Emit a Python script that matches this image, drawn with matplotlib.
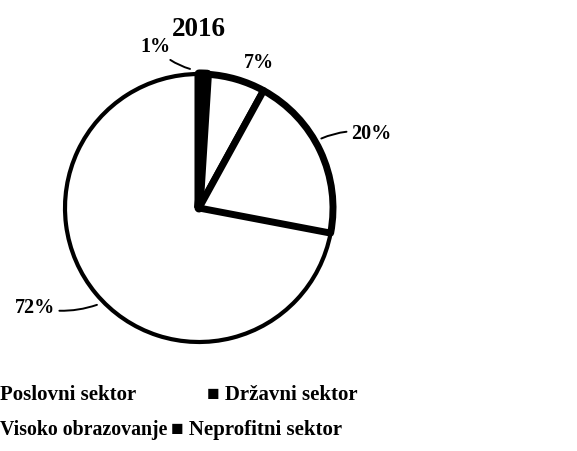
import numpy as np
import matplotlib
matplotlib.use('Agg')
from matplotlib import pyplot as plt

# data (2016 shares, clockwise from the top)
shares = [1, 7, 20, 72]
pct_labels = ['1%', '7%', '20%', '72%']
legend_row1 = ['Poslovni sektor', 'Državni sektor']
legend_row2 = ['Visoko obrazovanje', 'Neprofitni sektor']
title = '2016'

plt.rcParams['font.family'] = ['Liberation Serif', 'DejaVu Serif']
plt.rcParams['font.weight'] = 'bold'

W, H = 577, 452
fig = plt.figure(figsize=(W / 100, H / 100), dpi=100)
fig.patch.set_facecolor('white')

# pie centre ~ (199, 209) px, radius ~ 134 px
cx, cy, R = 199, 209, 134
ax = fig.add_axes([(cx - R) / W, (H - cy - R) / H, 2 * R / W, 2 * R / H])

wedges, _ = ax.pie(shares, startangle=90, counterclock=False, radius=1,
                   colors=['black', 'white', 'white', 'white'],
                   wedgeprops=dict(edgecolor='black', linewidth=3.0))
for w in wedges:
    w.set_joinstyle('round')
for w in wedges[:3]:
    w.set_linewidth(5.0)
    w.set_zorder(3)
wedges[0].set_linewidth(6.5)
wedges[0].set_zorder(4)
wedges[3].set_zorder(1)
ax.set_xlim(-1, 1)
ax.set_ylim(-1, 1)
ax.axis('off')

# label placement: (angle offset from wedge middle, text radius, leader?, leader end offset, leader radius)
lab_pos = [(17, 1.25, True, 5.5, 1.04),
           (-6, 1.175, False, 0, 0),
           (-1.5, 1.40, True, 4.4, 1.05),
           (-8.4, 1.43, True, 3.9, 1.05)]

for w, lab, (dth, rt, lead, dl, rl) in zip(wedges, pct_labels, lab_pos):
    mid = (w.theta1 + w.theta2) / 2
    a = np.radians(mid + dth)
    tx, ty = rt * np.cos(a), rt * np.sin(a)
    if lead:
        b = np.radians(mid + dl)
        ax.annotate(lab, xy=(rl * np.cos(b), rl * np.sin(b)), xytext=(tx, ty),
                    ha='center', va='center', fontsize=14.5, fontweight='bold',
                    annotation_clip=False,
                    arrowprops=dict(arrowstyle='-', lw=1.4, color='black',
                                    shrinkA=1, shrinkB=0,
                                    connectionstyle='arc3,rad=0.15'))
    else:
        ax.text(tx, ty, lab, ha='center', va='center', fontsize=14.5,
                fontweight='bold', clip_on=False)

fig.text(cx / W, 1 - 30 / H, title, ha='center', va='center',
         fontsize=19.5, fontweight='bold')

# legend, laid out like the scan (first marker cut off at the left edge)
fig.text(0 / W, 1 - 395 / H, legend_row1[0], ha='left', va='center', fontsize=15)
fig.text(207 / W, 1 - 395 / H, '■ ' + legend_row1[1], ha='left', va='center', fontsize=15)
fig.text(0 / W, 1 - 430 / H, legend_row2[0], ha='left', va='center', fontsize=14.3)
fig.text(171 / W, 1 - 430 / H, '■ ' + legend_row2[1], ha='left', va='center', fontsize=15)

fig.savefig('out.png', dpi=100, facecolor='white')
